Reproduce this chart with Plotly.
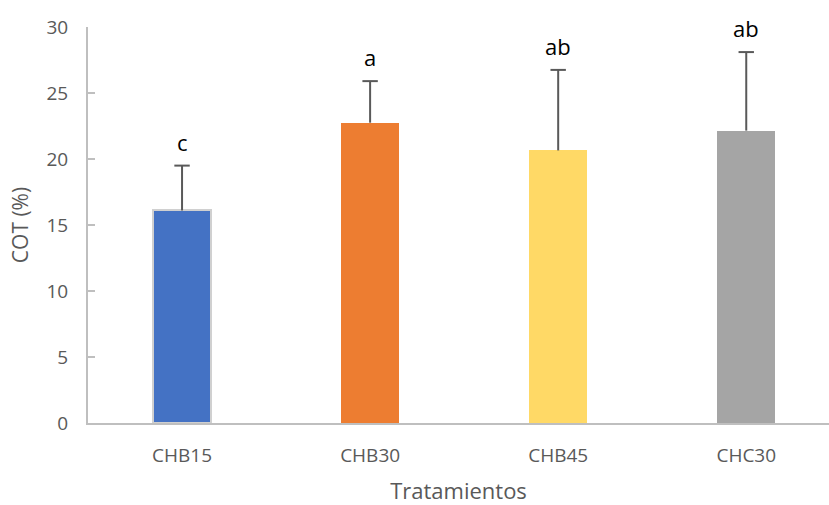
import plotly.graph_objects as go

# Treatments, mean COT (%), standard deviation and significance letters
tratamientos = ["CHB15", "CHB30", "CHB45", "CHC30"]
cot_media = [16.1, 22.75, 20.65, 22.15]
cot_desv = [3.4, 3.15, 6.1, 5.95]
letras = ["c", "a", "ab", "ab"]
colores = ["#4472C4", "#ED7D31", "#FFD966", "#A5A5A5"]
y_ticks = [0, 5, 10, 15, 20, 25, 30]

FONT = "Open Sans"
GRIS = "#595959"
EJE = "#BFBFBF"

cot_sup = [m + d for m, d in zip(cot_media, cot_desv)]

fig = go.Figure()
fig.add_trace(go.Bar(
    x=tratamientos,
    y=cot_media,
    width=0.31,
    marker=dict(color=colores,
                line=dict(color=["#D0D0D0", colores[1], colores[2], colores[3]],
                          width=[2, 0, 0, 0])),
    showlegend=False,
))

# upper error whisker: vertical stem from the bar top ...
fig.add_trace(go.Scatter(
    x=tratamientos, y=cot_sup, mode="markers",
    marker=dict(size=1, color="rgba(0,0,0,0)"),
    error_y=dict(type="data", symmetric=False, array=[0] * 4,
                 arrayminus=cot_desv, color=GRIS, thickness=2, width=0),
    showlegend=False, hoverinfo="skip",
))
# ... and its cap
fig.add_trace(go.Scatter(
    x=tratamientos, y=cot_sup, mode="markers",
    marker=dict(symbol="line-ew", size=11, line=dict(color=GRIS, width=2)),
    showlegend=False, hoverinfo="skip",
))

for t, s, l in zip(tratamientos, cot_sup, letras):
    fig.add_annotation(x=t, y=s, text=l, showarrow=False,
                       yanchor="bottom", yshift=7,
                       font=dict(family=FONT, size=22, color="#000000"))

fig.update_layout(
    width=829, height=505,
    margin=dict(l=88, r=0, t=27, b=82),
    plot_bgcolor="white", paper_bgcolor="white",
    bargap=0,
    font=dict(family=FONT, color=GRIS),
)
fig.update_xaxes(
    range=[-0.5, 3.44],
    showline=True, linecolor=EJE, linewidth=2,
    ticks="", showgrid=False, zeroline=False,
    tickfont=dict(family=FONT, size=19, color=GRIS),
    ticklabelstandoff=14,
    title=dict(text="Tratamientos", standoff=23,
               font=dict(family=FONT, size=22, color=GRIS)),
)
fig.update_yaxes(
    range=[0, 30], tickvals=y_ticks,
    showline=True, linecolor=EJE, linewidth=2,
    ticks="inside", ticklen=7, tickcolor=EJE, tickwidth=2,
    showgrid=False, zeroline=False,
    tickfont=dict(family=FONT, size=19, color=GRIS),
    ticklabelstandoff=14,
    title=dict(text="COT (%)", standoff=12,
               font=dict(family=FONT, size=21, color=GRIS)),
)

fig.write_html("out.html")
